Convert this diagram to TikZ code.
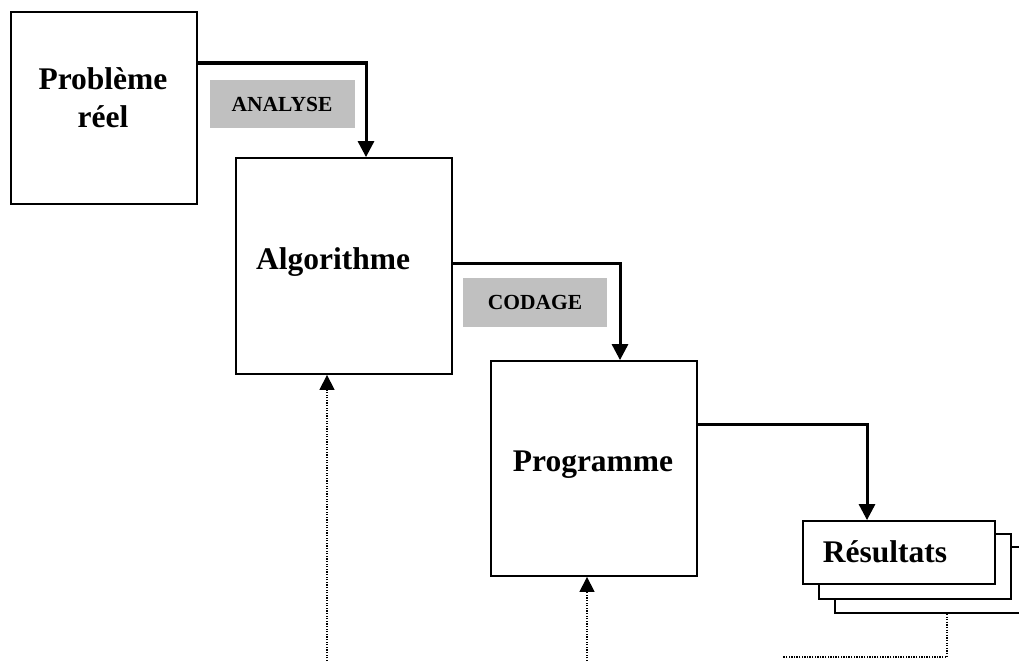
\documentclass[tikz,border=0pt]{standalone}
\usepackage{fontspec}
\setmainfont{Liberation Serif}
\usetikzlibrary{arrows.meta}
\definecolor{labelgray}{RGB}{192,192,192}
\tikzset{
  stagebox/.style={draw, line width=1.8pt, fill=white, inner sep=0pt},
  stagetext/.style={font=\fontsize{31.5}{38}\selectfont\bfseries, align=center, inner sep=0pt},
  steplabel/.style={fill=labelgray, inner sep=0pt, font=\fontsize{21.5}{24}\selectfont\bfseries},
  flow/.style={line width=3pt, -{Triangle[width=16pt,length=16pt]}},
  feedback/.style={line width=1.3pt, dash pattern=on 1.3pt off 1.3pt, -{Triangle[width=15pt,length=15pt]}},
  feedline/.style={line width=1.3pt, dash pattern=on 1.3pt off 1.3pt}
}
\begin{document}
\begin{tikzpicture}[x=1pt, y=-1pt]
	\useasboundingbox (0,0) rectangle (1019,661);

	% the four stages
	\node[stagebox, minimum width=186pt, minimum height=192pt] (prob) at(104,108){};
		\node[stagetext] (probtext) at(103,98){Probl\`eme\\r\'eel};
	\node[stagebox, minimum width=216pt, minimum height=216pt] (algo) at(344,266){};
		\node[stagetext] (algotext) at(333,262){Algorithme};
	\node[stagebox, minimum width=206pt, minimum height=215pt] (prog) at(594,468.5){};
		\node[stagetext] (progtext) at(593,465){Programme};

	% stacked results
	\node[stagebox, minimum width=216pt, minimum height=66pt] (res3) at(943,580){};
	\node[stagebox, minimum width=192pt, minimum height=65pt] (res2) at(915,566.5){};
	\node[stagebox, minimum width=192pt, minimum height=63pt] (res1) at(899,552.5){};
		\node[stagetext] (restext) at(885,552){R\'esultats};

	% step labels
	\node[steplabel, minimum width=145pt, minimum height=48pt] (analyse) at(282,104){ANALYSE};
	\node[steplabel, minimum width=144pt, minimum height=49pt] (codage) at(535,302.5){CODAGE};

	% forward arrows
	\draw[flow] ([yshift=45pt]prob.east) -| ([xshift=22pt]algo.north);
	\draw[flow] ([yshift=3pt]algo.east) -| ([xshift=26pt]prog.north);
	\draw[flow] ([yshift=44.5pt]prog.east) -| ([xshift=-32pt]res1.north);

	% dotted returns
	\coordinate (algoin) at(327,661);
	\coordinate (progin) at(587,661);
	\coordinate (resout) at(783,657);
	\draw[feedback] (algoin) -- (algoin |- algo.south);
	\draw[feedback] (progin) -- (progin |- prog.south);
	\draw[feedline] ([xshift=4pt]res3.south) |- (resout);
\end{tikzpicture}
\end{document}
